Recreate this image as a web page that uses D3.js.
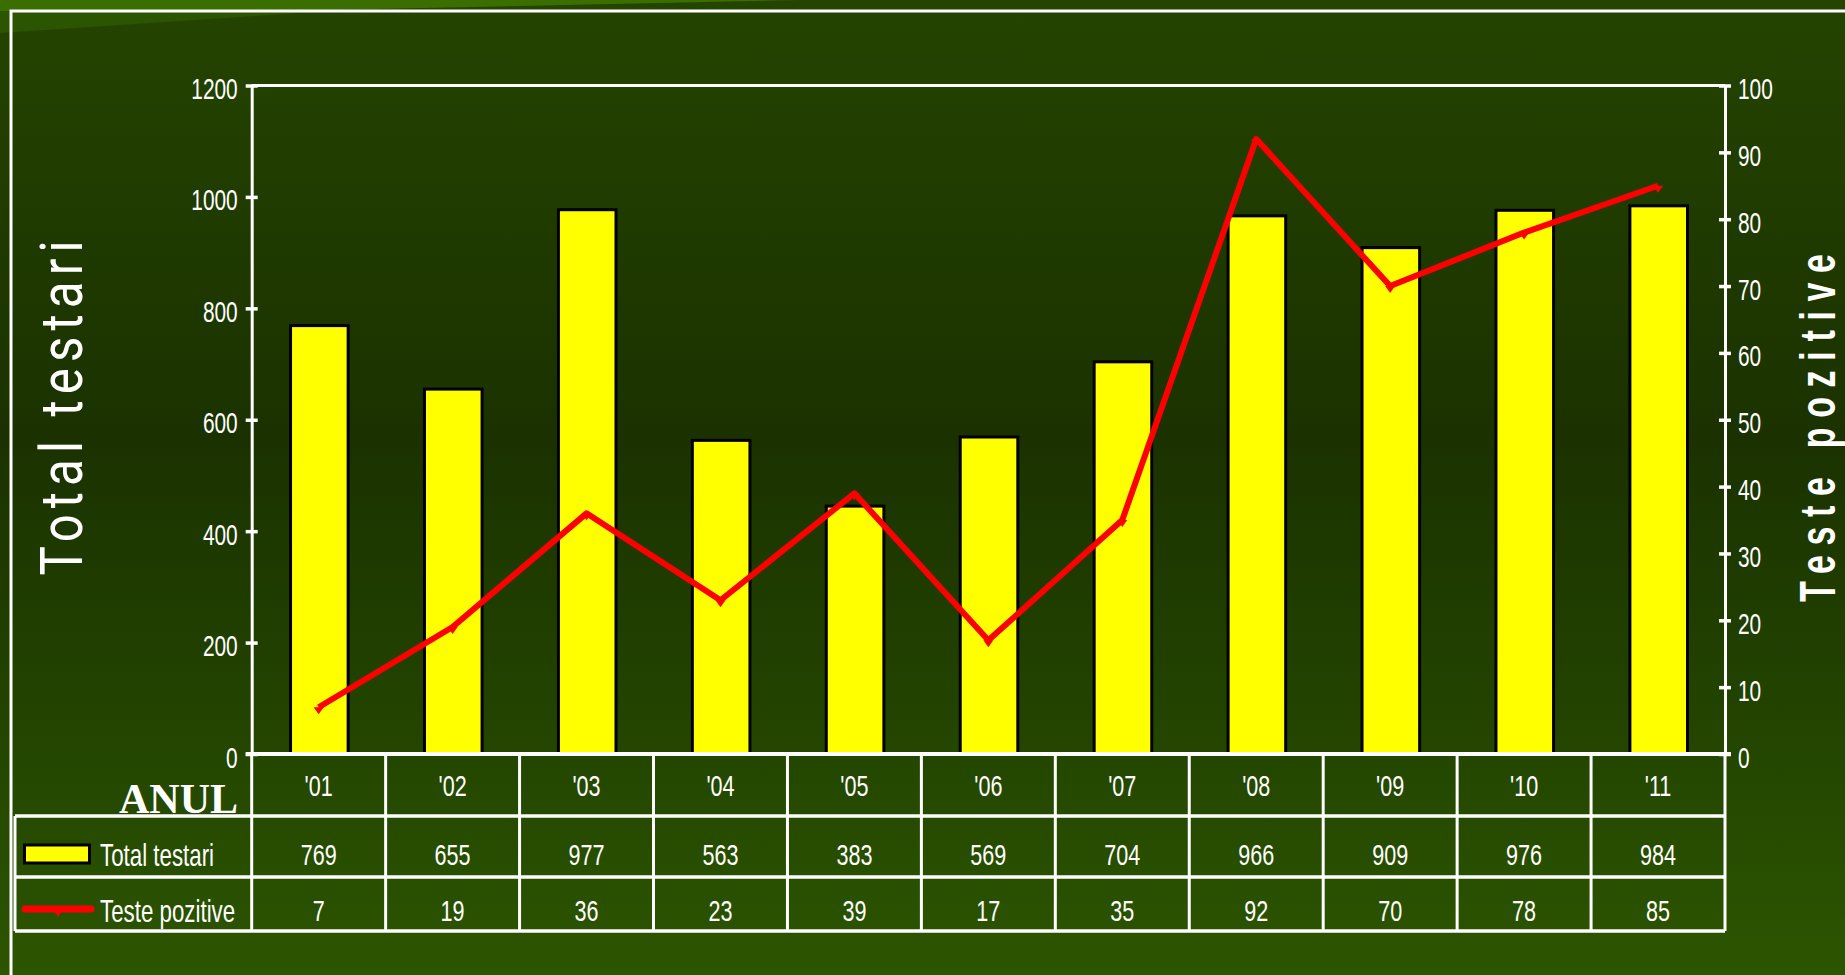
<!DOCTYPE html>
<html><head><meta charset="utf-8">
<script src="https://cdn.jsdelivr.net/npm/d3@7"></script>
<style>html,body{margin:0;padding:0;overflow:hidden;background:#1f3a00}</style>
</head><body><svg id="c" width="1845" height="975"></svg>
<script>
const years = ["'01","'02","'03","'04","'05","'06","'07","'08","'09","'10","'11"];
// values printed in the data table
const totalTestari = [769,655,977,563,383,569,704,966,909,976,984];
const testePozitive = [7,19,36,23,39,17,35,92,70,78,85];
// bar heights as drawn in the picture (the '05 bar is drawn taller than its table value)
const totalTestariBars = [769,655,977,563,445,569,704,966,909,976,984];
const leftTicks = [0,200,400,600,800,1000,1200];
const rightTicks = [0,10,20,30,40,50,60,70,80,90,100];
const seriesNames = ["Total testari","Teste pozitive"];
const leftTitle = "Total testari";
const rightTitle = "Teste pozitive";
const rowHeader = "ANUL";

const W = 1845, H = 975;
const plotL = 251.7, plotR = 1725, plotT = 85.5, plotB = 754;
const rowY = [754, 816, 877, 931];
const tableL = 15;
const SX = 0.72;
const FONT = "'Liberation Sans', Arial, sans-serif";

const svg = d3.select("#c");
const defs = svg.append("defs");
const grad = defs.append("linearGradient").attr("id","bg").attr("x1",0).attr("y1",0).attr("x2",0).attr("y2",1);
grad.append("stop").attr("offset","0%").attr("stop-color","#244400");
grad.append("stop").attr("offset","45%").attr("stop-color","#1b3200");
grad.append("stop").attr("offset","75%").attr("stop-color","#234500");
grad.append("stop").attr("offset","100%").attr("stop-color","#2c5500");
svg.append("rect").attr("width",W).attr("height",H).attr("fill","url(#bg)");
// decorative bands top-left
svg.append("polygon").attr("points","0,0 800,0 0,17").attr("fill","#3a6e00");
svg.append("polygon").attr("points","0,11 330,11 0,33").attr("fill","#2b5500");
// outer frame
svg.append("rect").attr("x",11).attr("y",11).attr("width",2000).attr("height",1200)
  .attr("fill","none").attr("stroke","#ffffff").attr("stroke-width",3);

const x = d3.scaleBand().domain(years).range([plotL, plotR]).padding(0);
const yL = d3.scaleLinear().domain([0,1200]).range([plotB, plotT]);
const yR = d3.scaleLinear().domain([0,100]).range([plotB, plotT]);
const bw = x.bandwidth();

// bars
svg.append("g").selectAll("rect").data(totalTestariBars).join("rect")
  .attr("x",(d,i)=>x(years[i]) + bw*0.29)
  .attr("width", bw*0.43)
  .attr("y", d=>yL(d))
  .attr("height", d=>plotB - yL(d))
  .attr("fill","#ffff00").attr("stroke","#000").attr("stroke-width",3);

// plot frame (top)
svg.append("line").attr("x1",plotL).attr("x2",plotR).attr("y1",plotT).attr("y2",plotT)
  .attr("stroke","#fff").attr("stroke-width",3);

// line series
const cx = i => x(years[i]) + bw/2;
svg.append("path").datum(testePozitive)
  .attr("d", d3.line().x((d,i)=>cx(i)).y(d=>yR(d)))
  .attr("fill","none").attr("stroke","#ff0000").attr("stroke-width",6).attr("stroke-linejoin","round");
svg.append("g").selectAll("path").data(testePozitive).join("path")
  .attr("d",(d,i)=>`M${cx(i)-5},${yR(d)} L${cx(i)+5},${yR(d)} L${cx(i)},${yR(d)+7} Z`)
  .attr("fill","#ff0000");

function styleAxis(g, side){
  g.select(".domain").attr("stroke","#fff").attr("stroke-width",3);
  g.selectAll(".tick line").attr("stroke","#fff").attr("stroke-width",3.5)
    .attr("x1",-6).attr("x2",6);
  g.selectAll(".tick text")
    .attr("x",null).attr("dy","0.45em")
    .attr("fill","#fff").attr("font-family",FONT).attr("font-size",29)
    .attr("text-anchor", side==="left" ? "end" : "start")
    .attr("transform", side==="left" ? `translate(-14,0) scale(${SX},1)` : `translate(13,0) scale(${SX},1)`);
}
const gL = svg.append("g").attr("transform",`translate(${plotL},0)`)
  .call(d3.axisLeft(yL).tickValues(leftTicks).tickFormat(d3.format("d")).tickSizeInner(6).tickSizeOuter(0));
styleAxis(gL,"left");
const gR = svg.append("g").attr("transform",`translate(${plotR},0)`)
  .call(d3.axisRight(yR).tickValues(rightTicks).tickFormat(d3.format("d")).tickSizeInner(6).tickSizeOuter(0));
styleAxis(gR,"right");

// table lines
const tl = svg.append("g").attr("stroke","#fff");
tl.append("line").attr("x1",plotL-6).attr("x2",plotR+6).attr("y1",plotB).attr("y2",plotB).attr("stroke-width",4);
[rowY[1], rowY[2], rowY[3]].forEach(yy=>{
  tl.append("line").attr("x1",tableL).attr("x2",plotR).attr("y1",yy).attr("y2",yy).attr("stroke-width",3.5);
});
tl.append("line").attr("x1",tableL).attr("x2",tableL).attr("y1",rowY[1]).attr("y2",rowY[3]).attr("stroke-width",3);
const bounds = years.map(y=>x(y)).concat([plotR]);
bounds.forEach(bx=>{
  tl.append("line").attr("x1",bx).attr("x2",bx).attr("y1",plotB).attr("y2",rowY[3]).attr("stroke-width",3);
});

function txt(str, tx, ty, opts){
  const o = Object.assign({size:30, anchor:"middle", sx:SX, weight:"normal", family:FONT, rot:0}, opts||{});
  const t = svg.append("text").text(str)
    .attr("transform", `translate(${tx},${ty}) rotate(${o.rot}) scale(${o.sx},1)`)
    .attr("text-anchor", o.anchor).attr("fill","#fff")
    .attr("font-family", o.family).attr("font-size", o.size).attr("font-weight", o.weight);
  if (o.len) t.attr("textLength", o.len/o.sx).attr("lengthAdjust","spacing");
  return t;
}

// table content
years.forEach((yv,i)=>{
  txt(yv, cx(i), 796);
  txt(String(totalTestari[i]), cx(i), 865);
  txt(String(testePozitive[i]), cx(i), 921);
});
txt(rowHeader, 238, 813, {size:42, anchor:"end", sx:1, weight:"bold", family:"'Liberation Serif', 'Times New Roman', serif"});

// legend keys
svg.append("rect").attr("x",24.5).attr("y",845).attr("width",65).attr("height",18)
  .attr("fill","#ffff00").attr("stroke","#000").attr("stroke-width",3);
svg.append("line").attr("x1",25).attr("x2",91).attr("y1",909).attr("y2",909)
  .attr("stroke","#ff0000").attr("stroke-width",7).attr("stroke-linecap","round");
svg.append("path").attr("d","M53,909 L63,909 L58,917 Z").attr("fill","#ff0000");
txt(seriesNames[0], 100, 866, {anchor:"start", size:31});
txt(seriesNames[1], 100, 922, {anchor:"start", size:31});

// axis titles
txt(leftTitle, 82, 408, {rot:-90, size:60, sx:0.82, len:335, family:"Roboto, 'Liberation Sans', sans-serif"});
txt(rightTitle, 1835, 428, {rot:-90, size:50, sx:0.68, len:348, weight:"bold"});
</script></body></html>
